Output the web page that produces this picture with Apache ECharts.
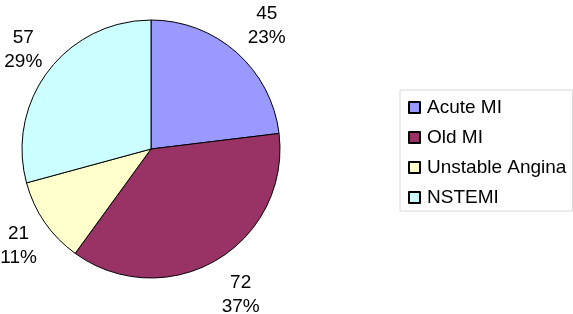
<!DOCTYPE html>
<html>
<head>
<meta charset="utf-8">
<script src="https://cdn.jsdelivr.net/npm/echarts@6/dist/echarts.min.js"></script>
<style>html,body{margin:0;padding:0;background:#fff}#c{width:573px;height:314px}</style>
</head>
<body>
<div id="c"></div>
<script>
var categories = ['Acute MI', 'Old MI', 'Unstable Angina', 'NSTEMI'];
var values = [45, 72, 21, 57];
var colors = ['#9999FF', '#993366', '#FFFFCC', '#CCFFFF'];

var chart = echarts.init(document.getElementById('c'), null, {renderer: 'canvas'});
var FONT = '"Liberation Sans", Arial, sans-serif';

var mainData = categories.map(function (n, i) {
  return {name: n, value: values[i], itemStyle: {color: colors[i]}};
});
var labelData = categories.map(function (n, i) {
  return {name: n, value: values[i]};
});

chart.setOption({
  animation: false,
  backgroundColor: '#fff',
  legend: {
    data: categories,
    orient: 'vertical',
    left: 400,
    top: 90,
    padding: [8, 6, 4, 8],
    itemWidth: 11,
    itemHeight: 11,
    itemGap: 11,
    icon: 'rect',
    borderColor: '#d8d8d8',
    borderWidth: 1,
    selectedMode: false,
    textStyle: {fontFamily: FONT, fontSize: 19, color: '#000', padding: [0, 0, 0, 2]}
  },
  series: [
    {
      type: 'pie',
      center: [151, 149],
      radius: [0, 129],
      startAngle: 90,
      clockwise: true,
      silent: true,
      itemStyle: {borderColor: '#000', borderWidth: 1},
      label: {show: false},
      labelLine: {show: false},
      data: mainData
    },
    {
      type: 'pie',
      center: [156, 151],
      radius: [130, 198],
      startAngle: 90,
      clockwise: true,
      silent: true,
      itemStyle: {color: 'rgba(0,0,0,0)', borderWidth: 0},
      emphasis: {disabled: true},
      label: {
        show: true,
        position: 'inside',
        fontFamily: FONT,
        fontSize: 19,
        lineHeight: 24,
        color: '#000',
        formatter: function (p) { return p.value + '\n' + Math.round(p.percent) + '%'; }
      },
      labelLine: {show: false},
      data: labelData
    }
  ]
});
</script>
</body>
</html>
